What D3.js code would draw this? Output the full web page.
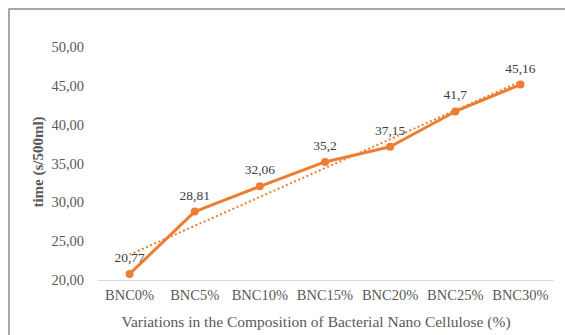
<!DOCTYPE html>
<html><head><meta charset="utf-8">
<script src="https://cdn.jsdelivr.net/npm/d3@7"></script>
<style>body{margin:0;background:#fff}svg{display:block}</style>
</head><body>
<svg id="c" width="565" height="335"></svg>
<script>
const categories = ["BNC0%","BNC5%","BNC10%","BNC15%","BNC20%","BNC25%","BNC30%"];
const values = [20.77, 28.81, 32.06, 35.2, 37.15, 41.7, 45.16];
const valueLabels = ["20,77","28,81","32,06","35,2","37,15","41,7","45,16"];
const yTicks = [20,25,30,35,40,45,50];
const yTickLabels = ["20,00","25,00","30,00","35,00","40,00","45,00","50,00"];
const xTitle = "Variations in the Composition of Bacterial Nano Cellulose (%)";
const yTitle = "time (s/500ml)";

const svg = d3.select("#c");
const font = "Liberation Serif";
const orange = "#ED7D31", grey = "#595959";

// frame
svg.append("rect").attr("x",9).attr("y",9).attr("width",600).attr("height",400)
  .attr("fill","none").attr("stroke","#8c8c8c").attr("stroke-width",1.5);

const x = d3.scaleBand().domain(categories).range([97,553]);
const y = d3.scaleLinear().domain([20,50]).range([280,47]);

// y axis labels
const yAxis = d3.axisLeft(y).tickValues(yTicks).tickFormat((d,i)=>yTickLabels[i]).tickSize(0).tickPadding(13);
const ya = svg.append("g").attr("transform","translate(97,0)").call(yAxis);
ya.select(".domain").remove();
ya.selectAll("text").attr("font-family",font).attr("font-size",14.5).attr("fill",grey);

// x axis
const xAxis = d3.axisBottom(x).tickSize(0).tickPadding(10);
const xa = svg.append("g").attr("transform","translate(0,280)").call(xAxis);
xa.select(".domain").attr("stroke","#d9d9d9").attr("stroke-width",1);
xa.selectAll("text").attr("font-family",font).attr("font-size",14.5).attr("fill",grey);

// trend line (linear regression of the series)
const xs = values.map((_,i)=>i+1);
const mx = d3.mean(xs), my = d3.mean(values);
const slope = d3.sum(xs.map((xi,i)=>(xi-mx)*(values[i]-my))) / d3.sum(xs.map(xi=>(xi-mx)**2));
const icpt = my - slope*mx;
const cx = c => x(c) + x.bandwidth()/2;
svg.append("line")
  .attr("x1",cx(categories[0])).attr("y1",y(icpt+slope*1))
  .attr("x2",cx(categories[6])).attr("y2",y(icpt+slope*7))
  .attr("stroke",orange).attr("stroke-width",2).attr("stroke-dasharray","2,2.5");

// series line
const line = d3.line().x((d,i)=>cx(categories[i])).y(d=>y(d));
svg.append("path").datum(values).attr("d",line).attr("fill","none")
  .attr("stroke",orange).attr("stroke-width",3).attr("stroke-linejoin","round");
svg.selectAll("circle.m").data(values).enter().append("circle")
  .attr("cx",(d,i)=>cx(categories[i])).attr("cy",d=>y(d)).attr("r",4).attr("fill",orange);

// data labels
svg.selectAll("text.dl").data(values).enter().append("text")
  .attr("x",(d,i)=>cx(categories[i])).attr("y",d=>y(d)-12)
  .attr("text-anchor","middle").attr("font-family",font).attr("font-size",13.5).attr("fill","#404040")
  .text((d,i)=>valueLabels[i]);

// axis titles
svg.append("text").attr("x",316).attr("y",327).attr("text-anchor","middle")
  .attr("font-family",font).attr("font-size",15.5).attr("fill",grey).text(xTitle);
svg.append("text").attr("transform","translate(43,162) rotate(-90)").attr("text-anchor","middle")
  .attr("font-family",font).attr("font-size",15).attr("font-weight","bold").attr("fill",grey).text(yTitle);
</script>
</body></html>
